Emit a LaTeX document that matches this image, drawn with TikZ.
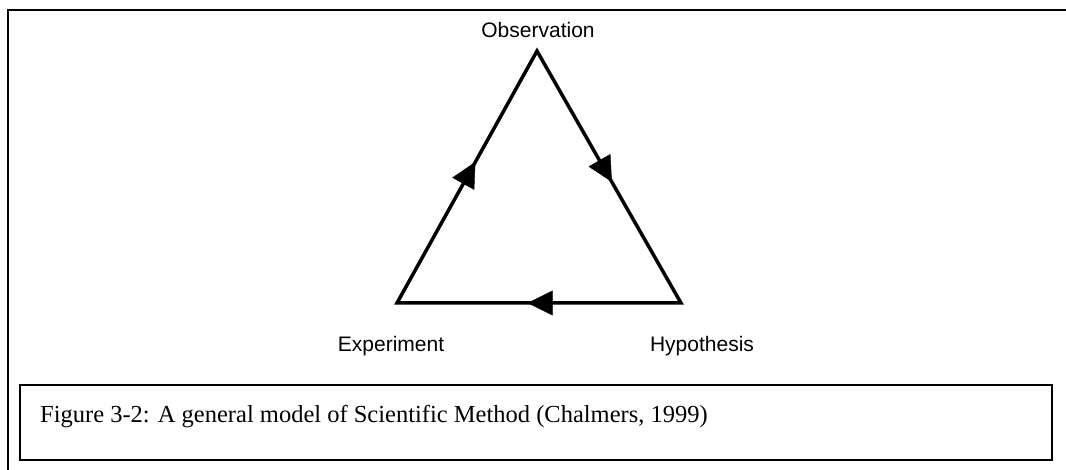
\documentclass[tikz,border=0pt]{standalone}
\usepackage{fontspec}
\setmainfont{Liberation Serif}
\newfontfamily\labelfont{Liberation Sans}
\usetikzlibrary{arrows.meta,decorations.markings}

\tikzset{
  frameline/.style={line width=2pt, draw=black},
  cycleedge/.style={line width=3.5pt, line join=miter},
  midtip/.style={postaction={decorate}, decoration={markings,
      mark=at position #1 with {\arrow{Triangle[length=25pt,width=25pt]}}}},
  steplabel/.style={font=\labelfont\fontsize{21}{25}\selectfont, anchor=base, inner sep=0pt},
  captiontext/.style={font=\fontsize{24.5}{29}\selectfont, anchor=base west, inner sep=0pt},
}

\begin{document}
\begin{tikzpicture}[x=1pt, y=-1pt]
  \useasboundingbox (0,0) rectangle (1066,470);
  \fill[white] (0,0) rectangle (1066,470);

  % outer frame (left and top sides)
  \draw[frameline] (8,470) -- (8,10) -- (1066,10);

  % corners of the cycle
  \coordinate (obs) at (537,51);
  \coordinate (hyp) at (681,303);
  \coordinate (exp) at (397,303);

  % the cycle as one closed triangle with sharp corners
  \draw[cycleedge] (exp) -- (obs) -- (hyp) -- cycle;

  % direction arrows on each edge
  \path[midtip=0.56] (exp) -- (obs);
  \path[midtip=0.52] (obs) -- (hyp);
  \path[midtip=0.54] (hyp) -- (exp);

  % labels
  \node[steplabel] (obslabel) at (538,38) {Observation};
  \node[steplabel] (hyplabel) at (702,352) {Hypothesis};
  \node[steplabel] (explabel) at (391,352) {Experiment};

  % caption box
  \draw[frameline] (20,385) rectangle (1052,460);
  \node[captiontext] (caption) at (40,422) {Figure 3-2: A general model of Scientific Method (Chalmers, 1999)};
\end{tikzpicture}
\end{document}
